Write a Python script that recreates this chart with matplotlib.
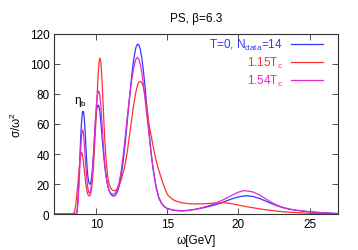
import numpy as np
import matplotlib
matplotlib.use('Agg')
import matplotlib.pyplot as plt

plt.rcParams['font.family'] = ['Liberation Sans', 'DejaVu Sans']
plt.rcParams['mathtext.fontset'] = 'custom'
plt.rcParams['mathtext.rm'] = 'Liberation Sans'
plt.rcParams['mathtext.it'] = 'Liberation Sans'

# omega [GeV] / sigma/omega^2
w_t0 = [7.0, 8.5, 8.6, 8.65, 8.7, 8.75, 8.8, 8.85, 8.9, 8.95, 9.0, 9.05, 9.1, 9.15, 9.2, 9.25,
        9.3, 9.35, 9.4, 9.45, 9.5, 9.55, 9.6, 9.65, 9.7, 9.75, 9.8, 9.85, 9.9, 9.95, 10.0, 10.05,
        10.1, 10.15, 10.2, 10.25, 10.3, 10.35, 10.4, 10.45, 10.5, 10.6, 10.7, 10.8, 10.9, 11.0,
        11.1, 11.2, 11.3, 11.4, 11.5, 11.6, 11.7, 11.8, 11.9, 12.0, 12.1, 12.2, 12.3, 12.4, 12.5,
        12.6, 12.7, 12.8, 12.9, 13.0, 13.1, 13.2, 13.3, 13.4, 13.5, 13.6, 13.7, 13.8, 13.9, 14.0,
        14.2, 14.4, 14.6, 14.8, 15.0, 15.5, 16.0, 16.5, 17.0, 17.5, 18.0, 18.5, 19.0, 19.5, 20.0,
        20.5, 21.0, 21.5, 22.0, 22.5, 23.0, 23.5, 24.0, 24.5, 25.0, 25.5, 26.0, 27.0]
s_t0 = [0, 0, 0, 2, 8, 17, 28, 40, 51, 60, 66, 68.5, 68, 64, 57, 48,
        39, 31, 25.5, 22, 20.3, 19.8, 20.5, 23, 27, 33, 40, 48, 56, 63, 68, 71,
        72.5, 72.5, 71, 68, 63, 57.5, 52, 46, 40.5, 31, 24, 19, 15.5, 13.5,
        12.4, 12, 12.2, 13.3, 15.3, 18.5, 23, 29, 36, 44.5, 54, 64, 74, 84, 93,
        101, 107, 111.5, 113.3, 112.5, 109.5, 104, 96.5, 87.5, 77, 66.5, 56, 46, 37, 29.5,
        18, 10.5, 6.8, 4.8, 3.6, 2.5, 2.2, 2.5, 3.2, 4.1, 5.2, 6.5, 8.2, 10, 11.4,
        12.2, 11.7, 10.3, 8.3, 6.3, 4.6, 3.4, 2.6, 2.0, 1.5, 1.1, 0.8, 0.3]

w_115 = [7.0, 8.35, 8.4, 8.45, 8.5, 8.55, 8.6, 8.65, 8.7, 8.75, 8.8, 8.85, 8.9, 8.95, 9.0, 9.05,
         9.1, 9.15, 9.2, 9.25, 9.3, 9.35, 9.4, 9.45, 9.5, 9.55, 9.6, 9.65, 9.7, 9.75, 9.8, 9.85,
         9.9, 9.95, 10.0, 10.05, 10.1, 10.15, 10.2, 10.25, 10.3, 10.35, 10.4, 10.45, 10.5, 10.55,
         10.6, 10.65, 10.7, 10.8, 10.9, 11.0, 11.1, 11.2, 11.3, 11.4, 11.5, 11.6, 11.7, 11.8, 11.9,
         12.0, 12.1, 12.2, 12.3, 12.4, 12.5, 12.6, 12.7, 12.8, 12.9, 13.0, 13.1, 13.2, 13.3, 13.4,
         13.5, 13.6, 13.7, 13.8, 13.9, 14.0, 14.1, 14.2, 14.3, 14.4, 14.6, 14.8, 15.0, 15.2, 15.5,
         16.0, 16.5, 17.0, 17.5, 18.0, 18.5, 19.0, 19.5, 20.0, 20.5, 21.0, 21.5, 22.0, 23.0, 24.0,
         25.0, 26.0, 27.0]
s_115 = [0, 0, 0.5, 1, 3, 6, 10, 15, 20, 25.5, 31, 35.5, 39, 41, 40.5, 38,
         34, 29.5, 25, 21, 17.5, 15, 13.2, 12.3, 12, 12.3, 13.5, 16, 20, 25.5, 32, 40,
         49, 58, 68, 78, 88, 96, 102, 104, 102.5, 97, 89, 79, 68, 58,
         49, 41, 34.5, 25, 20, 17.5, 16.2, 15.6, 15.5, 16, 17.2, 19, 21.5, 24.5, 28,
         32, 37, 43, 50, 57, 64, 71, 77, 82, 86, 88, 88.4, 87.5, 85, 80.5,
         74.5, 67.5, 60, 55, 50, 45, 40, 36, 32, 29, 23, 17.5, 13, 11, 9,
         7.5, 6.9, 6.7, 6.8, 7.1, 7.4, 7.5, 6.9, 6.0, 5.0, 4.2, 3.4, 2.7, 1.6, 1.0,
         0.5, 0.2, 0.1]

w_154 = [7.0, 8.55, 8.6, 8.65, 8.7, 8.75, 8.8, 8.85, 8.9, 8.95, 9.0, 9.05, 9.1, 9.15, 9.2, 9.25,
         9.3, 9.35, 9.4, 9.45, 9.5, 9.55, 9.6, 9.65, 9.7, 9.75, 9.8, 9.85, 9.9, 9.95, 10.0, 10.05,
         10.1, 10.15, 10.2, 10.25, 10.3, 10.35, 10.4, 10.45, 10.5, 10.6, 10.7, 10.8, 10.9, 11.0,
         11.1, 11.2, 11.3, 11.4, 11.5, 11.6, 11.7, 11.8, 11.9, 12.0, 12.1, 12.2, 12.3, 12.4, 12.5,
         12.6, 12.7, 12.8, 12.9, 13.0, 13.1, 13.2, 13.3, 13.4, 13.5, 13.6, 13.7, 13.8, 13.9, 14.0,
         14.2, 14.4, 14.6, 14.8, 15.0, 15.5, 16.0, 16.5, 17.0, 17.5, 18.0, 18.5, 19.0, 19.5, 20.0,
         20.4, 21.0, 21.5, 22.0, 22.5, 23.0, 23.5, 24.0, 24.5, 25.0, 25.5, 26.0, 27.0]
s_154 = [0, 0, 0, 2, 7, 15, 24, 34, 44, 51.5, 55.5, 56, 53, 47.5, 40.5, 33.5,
         27, 21.5, 17.5, 15, 14, 14, 15.5, 19, 24, 31, 39, 48, 57, 65.5, 72.5, 77.5,
         80.5, 82, 81.5, 79, 74, 67.5, 60, 52.5, 45, 33, 24.5, 19, 15.5, 14,
         13.3, 13.2, 13.7, 15, 17.5, 21, 26, 32.5, 40, 48.5, 57.5, 66.5, 75, 83, 90,
         96, 100.5, 103.5, 104.3, 103, 99.5, 94, 87, 79, 70.5, 62, 53.5, 45, 37, 30,
         18.5, 11, 7, 4.8, 3.5, 2.3, 2.0, 2.4, 3.2, 4.4, 5.8, 7.6, 9.8, 12.3, 14.6,
         15.6, 14.8, 12.6, 9.6, 6.8, 4.8, 3.4, 2.6, 2.0, 1.5, 1.1, 0.8, 0.3]

c_t0 = '#3535ff'
c_115 = '#ff3030'
c_154 = '#e02ad0'

fig = plt.figure(figsize=(3.58, 2.51), dpi=100)
ax = fig.add_axes([0.150, 0.1434, 0.794, 0.7172])

ax.plot(w_t0, s_t0, color=c_t0, lw=0.9, label='T=0, N$_\\mathrm{data}$=14')
ax.plot(w_115, s_115, color=c_115, lw=0.9, label='1.15T$_\\mathrm{c}$')
ax.plot(w_154, s_154, color=c_154, lw=0.9, label='1.54T$_\\mathrm{c}$')

ax.set_xlim(7, 27)
ax.set_ylim(0, 120)
ax.set_xticks([10, 15, 20, 25])
ax.set_yticks([0, 20, 40, 60, 80, 100, 120])
ax.tick_params(direction='in', top=True, right=True, labelsize=8.5, length=4, width=0.6,
               color='#333333', pad=3)
for sp in ax.spines.values():
    sp.set_linewidth(0.8)
    sp.set_color('#333333')

ax.text(8.85, 75, '$\\mathrm{\\eta_b}$', fontsize=8.5, ha='center', va='center')

ax.set_title('PS, \u03b2=6.3', fontsize=8.5, pad=9)
ax.set_xlabel('\u03c9[GeV]', fontsize=8.5, labelpad=3)
ax.set_ylabel('\u03c3/\u03c9$^2$', fontsize=8.5, labelpad=4)

leg = ax.legend(loc='upper right', bbox_to_anchor=(0.947, 0.985), frameon=False,
                markerfirst=False, fontsize=8.5, handlelength=2.7, handletextpad=0.7,
                labelspacing=0.25, borderpad=0, borderaxespad=0, labelcolor='linecolor')

fig.savefig('out.png', dpi=100)
